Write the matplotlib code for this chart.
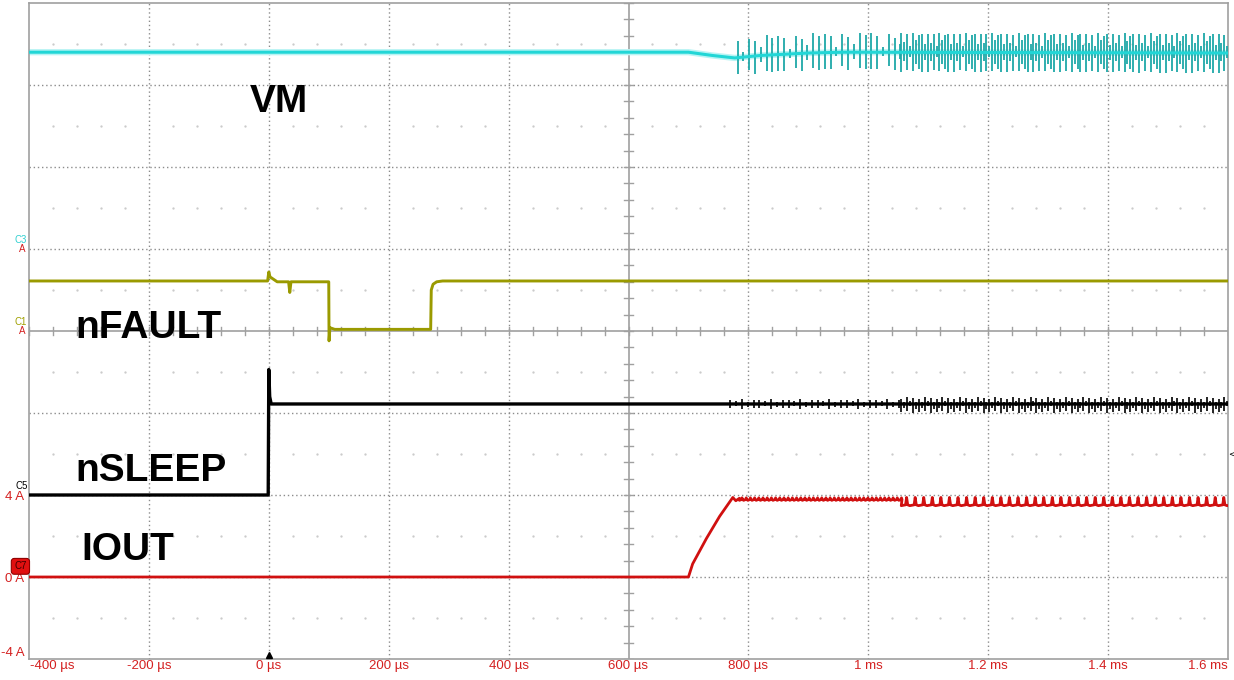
import matplotlib
matplotlib.use("Agg")
import numpy as np
import matplotlib.pyplot as plt

# time axis in µs, vertical axis in screen divisions (0 = centre line)
x_ticks = [-400, -200, 0, 200, 400, 600, 800, 1000, 1200, 1400, 1600]
x_labels = ["-400 µs", "-200 µs", "0 µs", "200 µs", "400 µs", "600 µs",
            "800 µs", "1 ms", "1.2 ms", "1.4 ms", "1.6 ms"]
i_ticks = [-2, -3, -4]
i_labels = ["4 A", "0 A", "-4 A"]

# VM (C3)
vm_t = [-400, 700, 740, 777, 820, 900, 960, 1600]
vm_v = [3.40, 3.40, 3.36, 3.33, 3.36, 3.39, 3.40, 3.39]
vm_spk1 = (782, 1055, 9.7, [0.20, 0.06, 0.22, 0.18, 0.10, 0.24, 0.21, 0.23],
           [0.20, 0.05, 0.17, 0.22, 0.08, 0.19, 0.21, 0.20])
vm_spk2 = (1055, 1600, 4.9, [0.23, 0.12, 0.22, 0.08, 0.24, 0.15, 0.21, 0.23, 0.10],
           [0.24, 0.10, 0.22, 0.06, 0.23, 0.14, 0.20, 0.24, 0.09])

# nFAULT (C1)
nf_t = [-400, -2, 0, 2, 8, 14, 33, 35, 37, 100, 100.5, 102, 110, 270, 271, 274, 280, 290, 1600]
nf_v = [0.61, 0.61, 0.72, 0.66, 0.63, 0.60, 0.60, 0.47, 0.60, 0.60, -0.12, 0.04, 0.02,
        0.02, 0.50, 0.57, 0.60, 0.61, 0.61]

# nSLEEP (C5)
ns_t = [-400, -1, 0, 1.5, 4, 1600]
ns_v = [-2.0, -2.0, -0.47, -0.80, -0.89, -0.89]
ns_spk1 = (770, 1055, 9.7, [0.05, 0.04, 0.06, 0.03, 0.05], [0.05, 0.03, 0.06, 0.04, 0.05])
ns_spk2 = (1055, 1600, 4.9, [0.06, 0.03, 0.08, 0.04, 0.07, 0.02], [0.10, 0.05, 0.08, 0.03, 0.11, 0.06])

# IOUT (C7), 4 A/div, 0 A at -3 div
io_t = [-400, 700, 707, 730, 752, 774, 779, 785]
io_v = [-3.0, -3.0, -2.84, -2.53, -2.26, -2.03, -2.07, -2.04]
io_rip1 = (785, 1055, 7.0, -2.065, -2.035)
io_rip2 = (1055, 1600, 14.3, -2.13, -2.03)

fig = plt.figure(figsize=(12.34, 6.8), dpi=100)
ax = fig.add_axes([29 / 1234, 1 - 659 / 680, 1199 / 1234, 656 / 680])
ax.set_xlim(-400, 1600)
ax.set_ylim(-4, 4)

# graticule
for x in x_ticks[1:-1]:
    if x != 600:
        ax.axvline(x, color="#8c8c8c", lw=1, ls=(0, (1, 2)), zorder=0)
for y in range(-3, 4):
    if y != 0:
        ax.axhline(y, color="#8c8c8c", lw=1, ls=(0, (1, 2)), zorder=0)
ax.axvline(600, color="#a0a0a0", lw=1.2, zorder=0)
ax.axhline(0, color="#a0a0a0", lw=1.2, zorder=0)
for x in np.arange(-400, 1601, 40):
    ax.plot([x, x], [-0.05, 0.05], color="#a0a0a0", lw=1, zorder=0)
for y in np.arange(-4, 4.01, 0.2):
    ax.plot([593, 607], [y, y], color="#a0a0a0", lw=1, zorder=0)
# sub-division dots
dx, dy = [], []
for y in np.arange(-3.5, 4, 1.0):
    for x in np.arange(-400, 1601, 40):
        if x % 200 != 0:
            dx.append(x)
            dy.append(y)
ax.scatter(dx, dy, s=0.4, color="#c8c8c8", zorder=0)

def spikes(base_t, base_v, spk, color, lw):
    t0, t1, per, ups, dns = spk
    ts = np.arange(t0, t1, per)
    b = np.interp(ts, base_t, base_v)
    up = np.array([ups[i % len(ups)] for i in range(len(ts))])
    dn = np.array([dns[i % len(dns)] for i in range(len(ts))])
    ax.vlines(ts, b - dn, b + up, color=color, lw=lw, zorder=3)

# VM
ax.plot(vm_t, vm_v, color="#b8f4f4", lw=4.5, zorder=2)
spikes(vm_t, vm_v, vm_spk1, "#1fa8a8", 1.3)
spikes(vm_t, vm_v, vm_spk2, "#1fa8a8", 1.3)
ax.plot(vm_t, vm_v, color="#22d6d6", lw=2.2, zorder=4)

# nFAULT
ax.plot(nf_t, nf_v, color="#9a9a00", lw=2.1, zorder=4)

# nSLEEP
ax.plot(ns_t, ns_v, color="black", lw=2.4, zorder=4)
spikes(ns_t, ns_v, ns_spk1, "black", 1.2)
spikes(ns_t, ns_v, ns_spk2, "black", 1.2)

# IOUT with ripple
it, iv = list(io_t), list(io_v)
for t0, t1, per, lo, hi in (io_rip1, io_rip2):
    t = t0
    while t < t1:
        it += [t, t + 0.5 * per, t + 0.62 * per, t + 0.75 * per]
        iv += [lo, lo + 0.01, hi, lo + 0.01]
        t += per
ax.plot(it, iv, color="#d01010", lw=2.0, zorder=4)

# signal names
lab = dict(fontsize=28, fontweight="bold", family="Liberation Sans", color="black", zorder=6)
ax.text(-32, 2.67, "VM", va="baseline", **lab)
ax.text(-323, -0.085, "nFAULT", va="baseline", **lab)
ax.text(-323, -1.83, "nSLEEP", va="baseline", **lab)
ax.text(-312, -2.79, "IOUT", va="baseline", **lab)

# axes labels
ax.set_xticks([])
ax.set_yticks([])
for s in ax.spines.values():
    s.set_color("#a0a0a0")
    s.set_linewidth(1.2)
red = "#d42020"
for x, s in zip(x_ticks, x_labels):
    ha = "left" if x == -400 else ("right" if x == 1600 else "center")
    xo = x + 2 if x == -400 else x
    ax.text(xo, -4.08, s, ha=ha, va="center", fontsize=9.5, color=red,
            family="Liberation Sans", clip_on=False)
for y, s in zip(i_ticks, i_labels):
    yo = y + 0.07 if y == -4 else y - 0.03
    ax.text(-408, yo, s, ha="right", va="center", fontsize=9.5, color=red,
            family="Liberation Sans", clip_on=False)

# channel markers
small = dict(fontsize=7, family="Liberation Sans", clip_on=False, ha="right")
ax.text(-403, 1.05, "C3", color="#30d0d0", va="bottom", **small)
ax.text(-406, 1.0, "A", color=red, va="center", **small)
ax.text(-403, 0.05, "C1", color="#a0a000", va="bottom", **small)
ax.text(-406, 0.0, "A", color=red, va="center", **small)
ax.text(-402, -1.95, "C5", color="black", va="bottom", **small)
ax.text(-404, -2.87, "C7", color="#400000", va="center", fontsize=7, family="Liberation Sans",
        clip_on=False, ha="right",
        bbox=dict(boxstyle="round,pad=0.3", fc="#e01010", ec="#900000", lw=0.8))
ax.plot([0], [-3.95], marker="^", color="black", ms=5, clip_on=False, zorder=7)
ax.text(1601, -1.5, "<", color="black", fontsize=6, va="center", ha="left", clip_on=False)

fig.savefig("out.png", dpi=100)
